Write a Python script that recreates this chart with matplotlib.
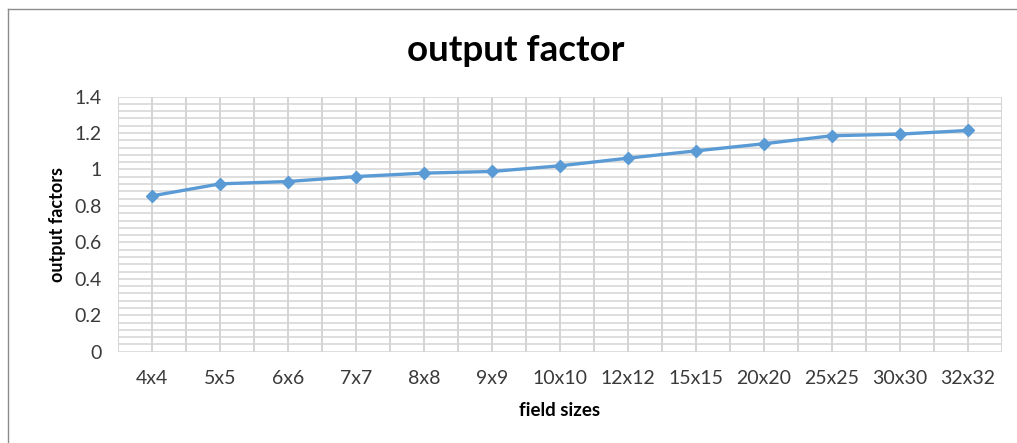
import numpy as np
import matplotlib
matplotlib.use("Agg")
import matplotlib.pyplot as plt
from matplotlib.lines import Line2D

# field sizes and measured output factors
field_sizes = ["4x4", "5x5", "6x6", "7x7", "8x8", "9x9", "10x10",
               "12x12", "15x15", "20x20", "25x25", "30x30", "32x32"]
output_factors = [0.855, 0.921, 0.934, 0.961, 0.980, 0.989, 1.020,
                  1.062, 1.102, 1.141, 1.185, 1.194, 1.214]
y_ticks = [0, 0.2, 0.4, 0.6, 0.8, 1, 1.2, 1.4]
y_tick_labels = ["0", "0.2", "0.4", "0.6", "0.8", "1", "1.2", "1.4"]

plt.rcParams['font.family'] = ['Lato', 'DejaVu Sans']

fig = plt.figure(figsize=(10.17, 4.43), dpi=100)
ax = fig.add_axes([0.116, 0.206, 0.869, 0.576])

x = np.arange(len(field_sizes))
grid_c = '#d4d4d4'

# gridlines: horizontal every 0.04, vertical every half category
for yv in np.arange(0, 1.4001, 0.04):
    ax.axhline(yv, color=grid_c, lw=1.1, zorder=0)
for xv in np.arange(-0.5, len(field_sizes) - 0.49, 0.5):
    ax.axvline(xv, color=grid_c, lw=1.4, zorder=0)

ax.plot(x, output_factors, color='#5b9bd5', lw=2.4, marker='D',
        markersize=6.5, zorder=3)

ax.set_xlim(-0.5, len(field_sizes) - 0.5)
ax.set_ylim(0, 1.4)
ax.set_xticks(x)
ax.set_xticklabels(field_sizes)
ax.set_yticks(y_ticks)
ax.set_yticklabels(y_tick_labels)
ax.tick_params(length=0, labelsize=14, labelcolor='#3a3a3a')
ax.tick_params(axis='x', pad=13)
ax.tick_params(axis='y', pad=12)
for s in ax.spines.values():
    s.set_visible(False)

ax.set_xlabel("field sizes", fontsize=13.5, fontweight='bold', labelpad=11)
ax.set_ylabel("output factors", fontsize=13, fontweight='bold', labelpad=6)

fig.text(0.507, 0.887, "output factor", ha='center', va='center',
         fontsize=26.5, fontweight='bold')

# chart border (top and left visible)
fig.add_artist(Line2D([8/1017, 8/1017], [0, 1 - 9/443], color='#8c8c8c', lw=1))
fig.add_artist(Line2D([8/1017, 1], [1 - 9/443, 1 - 9/443], color='#8c8c8c', lw=1))

fig.savefig("out.png", dpi=100)
